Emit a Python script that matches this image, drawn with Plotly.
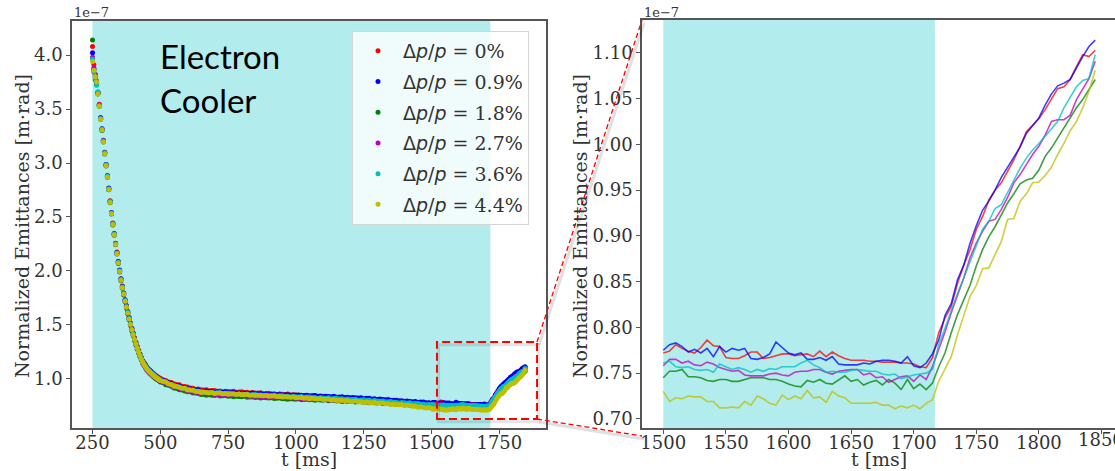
import plotly.graph_objects as go

W, H = 1115, 471

# ---------------- data (emittance in units of 1e-7 m*rad) ----------------
T_DECAY = list(range(250, 500, 5))
T_MID = list(range(500, 1500, 10))
T_TAIL = list(range(1500, 1850, 5))

LABELS = ["0%", "0.9%", "1.8%", "2.7%", "3.6%", "4.4%"]
COLORS = ["#ff0000", "#0000ff", "#008000", "#bf00bf", "#00bfbf", "#bfbf00"]

RED_DECAY = [4.08, 3.91, 3.82, 3.76, 3.65, 3.545, 3.42, 3.315, 3.21, 3.10, 2.985, 2.885, 2.765, 2.65, 2.54, 2.445,
             2.345, 2.255, 2.175, 2.085, 2.01, 1.925, 1.86, 1.795, 1.73, 1.68, 1.62, 1.57, 1.515, 1.47, 1.425, 1.38,
             1.34, 1.30, 1.265, 1.232, 1.20, 1.172, 1.152, 1.133, 1.113, 1.098, 1.085, 1.073, 1.061, 1.050, 1.039,
             1.029, 1.02, 1.011]
BLUE_DECAY = [4.02, 3.87, 3.80, 3.745, 3.652, 3.535, 3.418, 3.318, 3.205, 3.097, 2.986, 2.88, 2.768, 2.646, 2.542,
              2.44, 2.347, 2.257, 2.17, 2.088, 2.006, 1.928, 1.856, 1.797, 1.733, 1.676, 1.622, 1.567, 1.516, 1.467,
              1.421, 1.377, 1.336, 1.297, 1.262, 1.228, 1.196, 1.167, 1.146, 1.126, 1.106, 1.091, 1.078, 1.066, 1.053,
              1.042, 1.031, 1.021, 1.012, 1.003]
GREEN_DECAY = [4.14, 3.86, 3.77, 3.73, 3.64, 3.525, 3.405, 3.302, 3.195, 3.083, 2.972, 2.868, 2.752, 2.633, 2.528,
               2.427, 2.332, 2.242, 2.157, 2.07, 1.99, 1.91, 1.84, 1.778, 1.714, 1.658, 1.603, 1.548, 1.497, 1.447,
               1.402, 1.357, 1.316, 1.276, 1.241, 1.207, 1.175, 1.145, 1.124, 1.104, 1.084, 1.069, 1.056, 1.044,
               1.032, 1.021, 1.010, 1.000, 0.992, 0.983]
MAGENTA_DECAY = [3.98, 3.88, 3.82, 3.75, 3.648, 3.54, 3.412, 3.308, 3.202, 3.09, 2.978, 2.876, 2.758, 2.641, 2.533,
                 2.434, 2.338, 2.248, 2.163, 2.077, 1.997, 1.917, 1.846, 1.785, 1.72, 1.664, 1.609, 1.554, 1.503,
                 1.453, 1.408, 1.363, 1.322, 1.282, 1.247, 1.213, 1.181, 1.151, 1.13, 1.11, 1.09, 1.075, 1.062, 1.05,
                 1.038, 1.027, 1.016, 1.006, 0.998, 0.989]
CYAN_DECAY = [3.96, 3.84, 3.78, 3.72, 3.66, 3.532, 3.413, 3.313, 3.203, 3.094, 2.983, 2.878, 2.762, 2.643, 2.537,
              2.437, 2.343, 2.252, 2.167, 2.082, 2.002, 1.922, 1.852, 1.791, 1.727, 1.671, 1.616, 1.561, 1.511, 1.461,
              1.416, 1.371, 1.331, 1.291, 1.256, 1.223, 1.191, 1.161, 1.141, 1.121, 1.101, 1.086, 1.073, 1.061, 1.049,
              1.038, 1.027, 1.017, 1.008, 0.999]
YELLOW_DECAY = [3.94, 3.86, 3.80, 3.75, 3.64, 3.525, 3.405, 3.305, 3.195, 3.085, 2.975, 2.87, 2.755, 2.635, 2.53,
                2.43, 2.335, 2.245, 2.16, 2.075, 1.995, 1.915, 1.845, 1.785, 1.72, 1.665, 1.61, 1.555, 1.505, 1.455,
                1.41, 1.365, 1.325, 1.285, 1.25, 1.217, 1.185, 1.155, 1.135, 1.115, 1.095, 1.08, 1.067, 1.055, 1.043,
                1.032, 1.021, 1.011, 1.002, 0.993]

RED_MID = [1.007, 0.992, 0.986, 0.971, 0.968, 0.956, 0.948, 0.946, 0.933, 0.930, 0.925, 0.916, 0.914, 0.905, 0.906,
           0.900, 0.897, 0.900, 0.891, 0.893, 0.893, 0.887, 0.889, 0.882, 0.887, 0.884, 0.882, 0.886, 0.877, 0.880,
           0.881, 0.875, 0.876, 0.870, 0.874, 0.871, 0.869, 0.872, 0.864, 0.866, 0.867, 0.861, 0.863, 0.856, 0.861,
           0.858, 0.856, 0.860, 0.851, 0.854, 0.855, 0.849, 0.850, 0.844, 0.848, 0.845, 0.843, 0.846, 0.838, 0.840,
           0.841, 0.834, 0.836, 0.829, 0.834, 0.830, 0.827, 0.831, 0.822, 0.825, 0.825, 0.818, 0.820, 0.813, 0.818,
           0.814, 0.811, 0.815, 0.806, 0.809, 0.809, 0.802, 0.804, 0.797, 0.802, 0.798, 0.795, 0.799, 0.790, 0.793,
           0.793, 0.786, 0.788, 0.781, 0.786, 0.782, 0.780, 0.783, 0.775, 0.777]
BLUE_MID = [0.995, 0.988, 0.976, 0.965, 0.960, 0.943, 0.940, 0.935, 0.924, 0.920, 0.908, 0.910, 0.903, 0.898, 0.898,
            0.887, 0.889, 0.889, 0.882, 0.883, 0.876, 0.881, 0.878, 0.876, 0.880, 0.872, 0.874, 0.875, 0.869, 0.871,
            0.865, 0.870, 0.867, 0.865, 0.869, 0.861, 0.863, 0.864, 0.858, 0.860, 0.854, 0.859, 0.856, 0.855, 0.859,
            0.851, 0.854, 0.855, 0.850, 0.852, 0.846, 0.851, 0.848, 0.846, 0.850, 0.842, 0.845, 0.846, 0.840, 0.842,
            0.836, 0.841, 0.838, 0.835, 0.839, 0.831, 0.834, 0.835, 0.828, 0.830, 0.824, 0.829, 0.825, 0.823, 0.826,
            0.818, 0.821, 0.821, 0.815, 0.816, 0.810, 0.814, 0.810, 0.808, 0.811, 0.802, 0.804, 0.804, 0.798, 0.799,
            0.792, 0.796, 0.792, 0.789, 0.792, 0.784, 0.786, 0.786, 0.779, 0.780]
GREEN_MID = [0.971, 0.965, 0.947, 0.941, 0.932, 0.916, 0.912, 0.900, 0.898, 0.889, 0.881, 0.881, 0.869, 0.869, 0.866,
             0.856, 0.857, 0.850, 0.854, 0.850, 0.847, 0.851, 0.843, 0.845, 0.846, 0.840, 0.842, 0.836, 0.840, 0.837,
             0.835, 0.839, 0.831, 0.833, 0.834, 0.828, 0.830, 0.824, 0.828, 0.825, 0.823, 0.827, 0.819, 0.822, 0.823,
             0.816, 0.818, 0.812, 0.817, 0.814, 0.812, 0.816, 0.808, 0.811, 0.812, 0.807, 0.809, 0.803, 0.808, 0.805,
             0.803, 0.807, 0.799, 0.802, 0.803, 0.797, 0.798, 0.792, 0.797, 0.794, 0.792, 0.796, 0.787, 0.790, 0.790,
             0.784, 0.786, 0.779, 0.784, 0.780, 0.778, 0.781, 0.773, 0.775, 0.776, 0.769, 0.770, 0.764, 0.768, 0.765,
             0.762, 0.765, 0.757, 0.759, 0.760, 0.753, 0.754, 0.748, 0.752, 0.749]
MAGENTA_MID = [0.978, 0.970, 0.955, 0.950, 0.938, 0.926, 0.924, 0.910, 0.907, 0.902, 0.890, 0.888, 0.878, 0.880,
               0.873, 0.867, 0.870, 0.861, 0.863, 0.863, 0.856, 0.858, 0.852, 0.856, 0.853, 0.851, 0.855, 0.847,
               0.849, 0.850, 0.844, 0.846, 0.840, 0.844, 0.841, 0.839, 0.843, 0.835, 0.837, 0.838, 0.832, 0.834,
               0.828, 0.833, 0.830, 0.827, 0.831, 0.823, 0.826, 0.827, 0.821, 0.823, 0.817, 0.821, 0.818, 0.816,
               0.820, 0.812, 0.814, 0.815, 0.809, 0.811, 0.804, 0.809, 0.806, 0.804, 0.807, 0.799, 0.802, 0.802,
               0.796, 0.798, 0.791, 0.796, 0.792, 0.790, 0.794, 0.785, 0.788, 0.788, 0.782, 0.784, 0.777, 0.782,
               0.778, 0.776, 0.780, 0.771, 0.774, 0.774, 0.768, 0.770, 0.764, 0.769, 0.766, 0.764, 0.767, 0.759,
               0.762, 0.763]
CYAN_MID = [0.990, 0.979, 0.973, 0.956, 0.949, 0.941, 0.929, 0.925, 0.914, 0.913, 0.904, 0.898, 0.899, 0.887, 0.887,
            0.884, 0.877, 0.878, 0.871, 0.875, 0.871, 0.869, 0.873, 0.864, 0.867, 0.868, 0.862, 0.864, 0.857, 0.862,
            0.859, 0.857, 0.861, 0.852, 0.855, 0.856, 0.850, 0.852, 0.845, 0.850, 0.847, 0.845, 0.849, 0.841, 0.844,
            0.844, 0.838, 0.840, 0.834, 0.839, 0.836, 0.834, 0.838, 0.829, 0.832, 0.833, 0.827, 0.829, 0.822, 0.827,
            0.824, 0.822, 0.825, 0.817, 0.820, 0.821, 0.814, 0.816, 0.810, 0.814, 0.811, 0.809, 0.812, 0.804, 0.806,
            0.807, 0.800, 0.802, 0.795, 0.800, 0.796, 0.793, 0.797, 0.788, 0.790, 0.791, 0.784, 0.785, 0.778, 0.783,
            0.779, 0.776, 0.779, 0.770, 0.772, 0.773, 0.766, 0.767, 0.760, 0.764]
YELLOW_MID = [0.987, 0.980, 0.972, 0.956, 0.949, 0.933, 0.932, 0.923, 0.915, 0.913, 0.899, 0.898, 0.896, 0.886,
              0.885, 0.875, 0.879, 0.875, 0.872, 0.875, 0.866, 0.869, 0.869, 0.863, 0.865, 0.859, 0.863, 0.860,
              0.858, 0.861, 0.853, 0.856, 0.856, 0.850, 0.852, 0.846, 0.850, 0.847, 0.845, 0.848, 0.840, 0.843,
              0.843, 0.837, 0.838, 0.832, 0.836, 0.833, 0.830, 0.834, 0.825, 0.828, 0.828, 0.822, 0.823, 0.817,
              0.821, 0.818, 0.815, 0.819, 0.810, 0.812, 0.812, 0.806, 0.807, 0.800, 0.804, 0.800, 0.798, 0.801,
              0.792, 0.794, 0.795, 0.788, 0.789, 0.783, 0.787, 0.783, 0.780, 0.784, 0.775, 0.777, 0.777, 0.770,
              0.771, 0.764, 0.768, 0.764, 0.761, 0.764, 0.755, 0.756, 0.755, 0.747, 0.747, 0.739, 0.742, 0.736,
              0.732, 0.734]

RED_TAIL = [0.772, 0.774, 0.781, 0.777, 0.774, 0.772, 0.778, 0.786, 0.780, 0.779, 0.767, 0.766, 0.766, 0.769, 0.773,
            0.773, 0.766, 0.767, 0.769, 0.771, 0.771, 0.769, 0.770, 0.771, 0.768, 0.774, 0.768, 0.773, 0.769, 0.766,
            0.764, 0.764, 0.764, 0.763, 0.763, 0.762, 0.762, 0.762, 0.761, 0.761, 0.760, 0.757, 0.756, 0.767,
            0.794, 0.810, 0.823, 0.848, 0.868, 0.885, 0.907, 0.921, 0.939, 0.950, 0.958, 0.970, 0.983, 0.998, 1.014,
            1.021, 1.028, 1.038, 1.049, 1.061, 1.063, 1.071, 1.085, 1.098, 1.096, 1.103]
BLUE_TAIL = [0.775, 0.781, 0.783, 0.779, 0.773, 0.776, 0.772, 0.777, 0.768, 0.779, 0.773, 0.777, 0.775, 0.777, 0.766,
             0.765, 0.767, 0.771, 0.784, 0.778, 0.772, 0.770, 0.772, 0.765, 0.765, 0.767, 0.764, 0.768, 0.760, 0.759,
             0.759, 0.759, 0.761, 0.760, 0.763, 0.764, 0.764, 0.763, 0.761, 0.768, 0.758, 0.756, 0.761, 0.771,
             0.786, 0.813, 0.826, 0.852, 0.868, 0.892, 0.911, 0.928, 0.938, 0.950, 0.964, 0.975, 0.985, 0.997, 1.012,
             1.021, 1.029, 1.043, 1.055, 1.064, 1.067, 1.071, 1.084, 1.096, 1.107, 1.114]
GREEN_TAIL = [0.745, 0.752, 0.752, 0.754, 0.746, 0.746, 0.745, 0.742, 0.741, 0.743, 0.743, 0.741, 0.741, 0.743,
              0.745, 0.745, 0.745, 0.743, 0.743, 0.741, 0.738, 0.736, 0.735, 0.742, 0.740, 0.743, 0.739, 0.738,
              0.743, 0.747, 0.741, 0.743, 0.737, 0.740, 0.742, 0.737, 0.743, 0.739, 0.732, 0.743, 0.733, 0.738,
              0.732, 0.739,
              0.757, 0.772, 0.794, 0.814, 0.830, 0.846, 0.867, 0.885, 0.899, 0.910, 0.923, 0.936, 0.946, 0.957,
              0.961, 0.963, 0.972, 0.987, 0.996, 1.007, 1.018, 1.029, 1.040, 1.049, 1.060, 1.071]
MAGENTA_TAIL = [0.758, 0.765, 0.765, 0.761, 0.763, 0.759, 0.758, 0.762, 0.760, 0.756, 0.754, 0.752, 0.753, 0.748,
                0.747, 0.747, 0.747, 0.749, 0.750, 0.748, 0.747, 0.751, 0.752, 0.752, 0.754, 0.754, 0.751, 0.749,
                0.752, 0.753, 0.754, 0.754, 0.748, 0.750, 0.745, 0.746, 0.740, 0.743, 0.746, 0.747, 0.741, 0.748,
                0.743, 0.757,
                0.775, 0.795, 0.816, 0.834, 0.854, 0.876, 0.892, 0.905, 0.916, 0.918, 0.929, 0.942, 0.958, 0.967,
                0.978, 0.989, 0.998, 1.010, 1.025, 1.027, 1.027, 1.032, 1.049, 1.061, 1.072, 1.091]
CYAN_TAIL = [0.761, 0.763, 0.757, 0.756, 0.757, 0.754, 0.753, 0.754, 0.751, 0.760, 0.757, 0.754, 0.756, 0.754, 0.751,
             0.754, 0.752, 0.755, 0.754, 0.757, 0.757, 0.757, 0.761, 0.764, 0.759, 0.756, 0.751, 0.752, 0.751, 0.751,
             0.753, 0.754, 0.753, 0.752, 0.752, 0.749, 0.748, 0.749, 0.744, 0.746, 0.748, 0.749, 0.750, 0.754,
             0.781, 0.799, 0.819, 0.837, 0.854, 0.872, 0.888, 0.907, 0.916, 0.930, 0.934, 0.947, 0.961, 0.974, 0.985,
             0.994, 1.001, 1.009, 1.016, 1.025, 1.040, 1.052, 1.063, 1.070, 1.072, 1.098]
YELLOW_TAIL = [0.730, 0.719, 0.723, 0.722, 0.725, 0.724, 0.724, 0.719, 0.719, 0.712, 0.712, 0.713, 0.712, 0.719,
               0.715, 0.725, 0.722, 0.717, 0.715, 0.726, 0.721, 0.725, 0.722, 0.731, 0.723, 0.724, 0.718, 0.730,
               0.725, 0.723, 0.717, 0.717, 0.717, 0.717, 0.718, 0.715, 0.715, 0.711, 0.714, 0.712, 0.715, 0.711,
               0.717, 0.721,
               0.741, 0.755, 0.768, 0.792, 0.814, 0.834, 0.846, 0.864, 0.865, 0.879, 0.894, 0.918, 0.919, 0.938,
               0.946, 0.958, 0.959, 0.966, 0.975, 0.989, 1.001, 1.015, 1.025, 1.040, 1.058, 1.081]

DECAY = [RED_DECAY, BLUE_DECAY, GREEN_DECAY, MAGENTA_DECAY, CYAN_DECAY, YELLOW_DECAY]
MID = [RED_MID, BLUE_MID, GREEN_MID, MAGENTA_MID, CYAN_MID, YELLOW_MID]
TAIL = [RED_TAIL, BLUE_TAIL, GREEN_TAIL, MAGENTA_TAIL, CYAN_TAIL, YELLOW_TAIL]

COOLER_ON = (250, 1717)          # electron cooler active window [ms]
ZOOM_BOX_T = (1520, 1889)        # zoom rectangle in the left panel
ZOOM_BOX_V = (0.63, 1.343)

LEFT_XTICKS = [250, 500, 750, 1000, 1250, 1500, 1750]
LEFT_YTICKS = [1.0, 1.5, 2.0, 2.5, 3.0, 3.5, 4.0]
RIGHT_XTICKS = [1500, 1550, 1600, 1650, 1700, 1750, 1800]
RIGHT_XTICK_CLIPPED = 1850
RIGHT_YTICKS = [0.70, 0.75, 0.80, 0.85, 0.90, 0.95, 1.00, 1.05, 1.10]

# ---------------- figure ----------------
SERIF = "DejaVu Serif"
FS = 19       # titles / legend
FT = 18       # tick labels
TXT = "#333333"
SPINE = "#555555"

fig = go.Figure()
T_ALL = T_DECAY + T_MID + T_TAIL
for i in range(6):
    y_all = DECAY[i] + MID[i] + TAIL[i]
    assert len(y_all) == len(T_ALL), (i, len(DECAY[i]), len(MID[i]), len(TAIL[i]))
    name = ('<span style="font-family:DejaVu Sans">Δ<i>p</i>/<i>p</i></span> = ' + LABELS[i])
    fig.add_trace(go.Scatter(x=T_ALL, y=y_all, mode="markers", name=name,
                             legendgroup=f"g{i}",
                             marker=dict(color=COLORS[i], size=5, line=dict(width=0)),
                             xaxis="x", yaxis="y"))
for i in range(6):
    fig.add_trace(go.Scatter(x=T_TAIL, y=TAIL[i], mode="lines", showlegend=False,
                             line=dict(color=COLORS[i], width=1.6), opacity=0.75,
                             xaxis="x2", yaxis="y2"))

px2x = lambda p: p / W
py2y = lambda p: 1 - p / H

axis_common = dict(showgrid=False, zeroline=False, showline=True, linecolor=SPINE, linewidth=1.5,
                   ticks="outside", ticklen=4, tickwidth=1.2, tickcolor=SPINE, automargin=False,
                   tickfont=dict(family=SERIF, size=FT, color=TXT))

fig.update_layout(
    width=W, height=H, margin=dict(l=0, r=0, t=0, b=0, autoexpand=False),
    paper_bgcolor="white", plot_bgcolor="white",
    xaxis=dict(domain=[px2x(72), px2x(546)], range=[174.4, 1922], tickvals=LEFT_XTICKS,
               anchor="y", mirror=True, ticklabelstandoff=-6, **axis_common),
    yaxis=dict(domain=[py2y(428), py2y(21)], range=[0.546, 4.315], tickvals=LEFT_YTICKS,
               tickformat=".1f", anchor="x", mirror=True, **axis_common),
    xaxis2=dict(domain=[px2x(642), 1.0], range=[1483, 1860.8], tickvals=RIGHT_XTICKS + [RIGHT_XTICK_CLIPPED],
                anchor="y2", mirror=True, ticklabelstandoff=-6, **axis_common),
    yaxis2=dict(domain=[py2y(428), py2y(20)], range=[0.690, 1.136], tickvals=RIGHT_YTICKS,
                tickformat=".2f", anchor="x2", mirror=False, **axis_common),
    legend=dict(x=px2x(352), y=py2y(31), xanchor="left", yanchor="top",
                bgcolor="rgba(255,255,255,0.8)", bordercolor="#d6d6d6", borderwidth=1,
                font=dict(family=SERIF, size=FS, color=TXT), itemwidth=40,
                tracegroupgap=3, traceorder="grouped"),
    showlegend=True,
)

# cooler window spans
fig.add_shape(type="rect", xref="x", yref="y domain", x0=COOLER_ON[0], x1=COOLER_ON[1], y0=0, y1=1,
              fillcolor="rgba(0,191,191,0.3)", line=dict(width=0), layer="below")
fig.add_shape(type="rect", xref="x2", yref="y2 domain", x0=max(COOLER_ON[0], 1500), x1=COOLER_ON[1], y0=0, y1=1,
              fillcolor="rgba(0,191,191,0.3)", line=dict(width=0), layer="below")

# shadows of zoom indicator
fig.add_shape(type="line", xref="paper", yref="paper", x0=px2x(539), y0=py2y(345), x1=px2x(644), y1=py2y(23),
              line=dict(color="rgba(0,0,0,0.12)", width=3))
fig.add_shape(type="line", xref="paper", yref="paper", x0=px2x(539), y0=py2y(422), x1=px2x(644), y1=py2y(439),
              line=dict(color="rgba(0,0,0,0.12)", width=3))
fig.add_shape(type="rect", xref="x", yref="y", x0=ZOOM_BOX_T[0] + 6, x1=ZOOM_BOX_T[1] + 6,
              y0=ZOOM_BOX_V[0] - 0.025, y1=ZOOM_BOX_V[1] - 0.025,
              line=dict(color="rgba(0,0,0,0.10)", width=3))
# zoom indicator
fig.add_shape(type="rect", xref="x", yref="y", x0=ZOOM_BOX_T[0], x1=ZOOM_BOX_T[1],
              y0=ZOOM_BOX_V[0], y1=ZOOM_BOX_V[1], line=dict(color="#ff0000", width=2, dash="8px,4px"))
fig.add_shape(type="line", xref="paper", yref="paper", x0=px2x(537), y0=py2y(342), x1=px2x(642), y1=py2y(20),
              line=dict(color="#ff0000", width=1.3, dash="5px,3px"))
fig.add_shape(type="line", xref="paper", yref="paper", x0=px2x(537), y0=py2y(419), x1=px2x(642), y1=py2y(436),
              line=dict(color="#ff0000", width=1.3, dash="5px,3px"))

ann = []
ann.append(dict(text="Electron", x=px2x(158), y=py2y(56), xref="paper", yref="paper", xanchor="left",
                yanchor="middle", showarrow=False, font=dict(family="Lato", size=33, color="black")))
ann.append(dict(text="Cooler", x=px2x(158), y=py2y(100), xref="paper", yref="paper", xanchor="left",
                yanchor="middle", showarrow=False, font=dict(family="Lato", size=33, color="black")))
for xp in (72, 642):
    ann.append(dict(text="1e−7", x=px2x(xp), y=py2y(13), xref="paper", yref="paper", xanchor="left",
                    yanchor="middle", showarrow=False, font=dict(family=SERIF, size=13, color=TXT)))
for xp in (22, 580):
    ann.append(dict(text="Normalized Emittances [m·rad]", x=px2x(xp), y=py2y(226), xref="paper", yref="paper",
                    xanchor="center", yanchor="middle", textangle=-90, showarrow=False,
                    font=dict(family=SERIF, size=FS, color=TXT)))
for xp in (309, 879):
    ann.append(dict(text="t [ms]", x=px2x(xp), y=0, xref="paper", yref="paper", xanchor="center",
                    yanchor="bottom", yshift=-1, showarrow=False, font=dict(family=SERIF, size=FS, color=TXT)))
# last tick label of the right panel runs off the canvas edge
ann.append(dict(text=str(RIGHT_XTICK_CLIPPED), x=RIGHT_XTICK_CLIPPED, y=py2y(439), xref="x2", yref="paper",
                xanchor="center", yanchor="middle", showarrow=False, font=dict(family=SERIF, size=FT, color=TXT)))
fig.update_layout(annotations=ann)

fig.write_html("out.html")
